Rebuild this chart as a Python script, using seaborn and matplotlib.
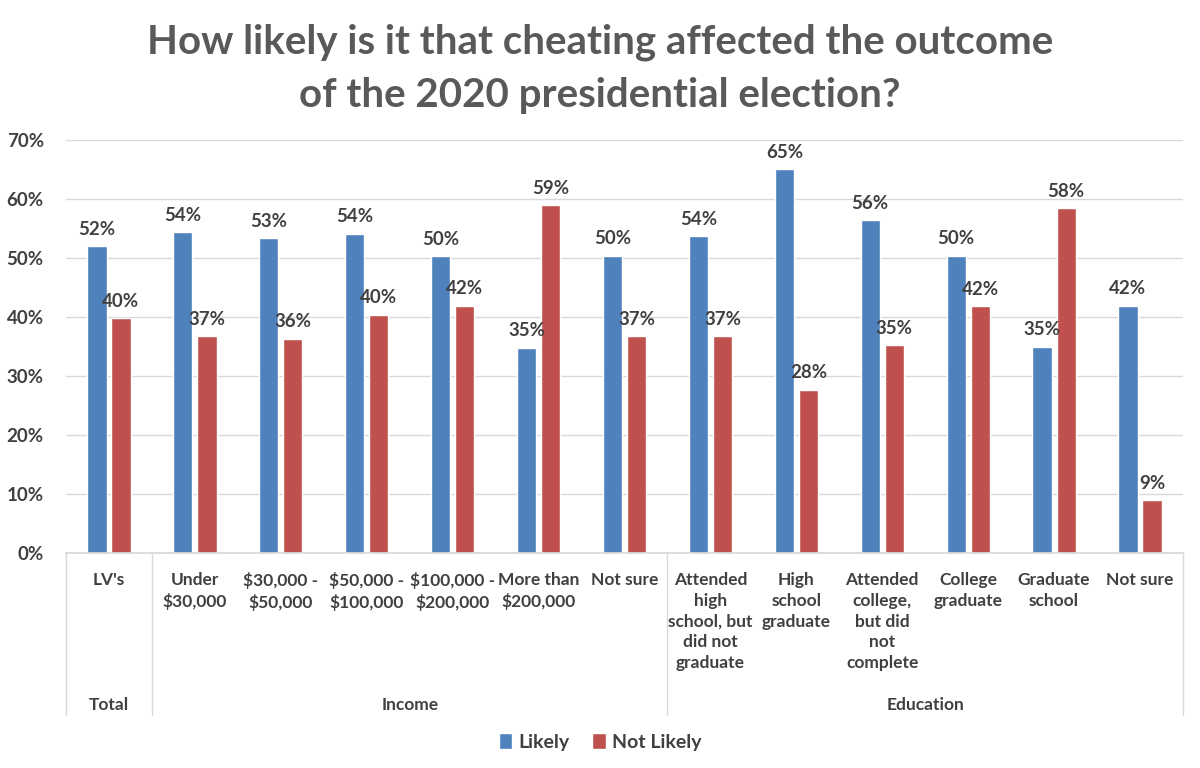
import matplotlib
matplotlib.use("Agg")
import matplotlib.pyplot as plt
import matplotlib.transforms as mtransforms
import pandas as pd
import seaborn as sns

categories = ["LV's", "Under\n$30,000", "$30,000 -\n$50,000", "$50,000 -\n$100,000",
              "$100,000 -\n$200,000", "More than\n$200,000", "Not sure",
              "Attended\nhigh\nschool, but\ndid not\ngraduate", "High\nschool\ngraduate",
              "Attended\ncollege,\nbut did\nnot\ncomplete", "College\ngraduate",
              "Graduate\nschool", "Not sure"]
groups = ["Total"] + ["Income"] * 6 + ["Education"] * 6
likely = [52.0, 54.4, 53.4, 54.1, 50.3, 34.8, 50.4, 53.7, 65.1, 56.4, 50.4, 35.0, 41.9]
not_likely = [39.8, 36.8, 36.3, 40.4, 41.9, 59.0, 36.7, 36.7, 27.7, 35.2, 41.8, 58.4, 8.9]
series = ["Likely", "Not Likely"]
colors = ["#4F81BD", "#C0504D"]

TEXT = "#404040"
GRID = "#D9D9D9"

sns.set_theme(style="white")
plt.rcParams['font.family'] = ['Lato', 'DejaVu Sans']

keys = [f"{g}|{i}" for i, g in enumerate(groups)]
df = pd.DataFrame({
    "key": keys * 2,
    "series": [series[0]] * len(keys) + [series[1]] * len(keys),
    "value": likely + not_likely,
})

fig = plt.figure(figsize=(12, 7.68), dpi=100)
ax = fig.add_axes([66 / 1200, 1 - 553 / 768, (1183 - 66) / 1200, 413 / 768])

sns.barplot(data=df, x="key", y="value", hue="series", order=keys,
            hue_order=series, palette=colors, width=0.56, gap=0.2,
            saturation=1, ax=ax)

for cont in ax.containers:
    ax.bar_label(cont, labels=[f"{round(b.get_height()):.0f}%" for b in cont],
                 padding=6, fontsize=13.5, fontweight="bold", color=TEXT)

ax.set_xlim(-0.5, len(keys) - 0.5)
ax.set_ylim(0, 70)
ax.set_yticks(range(0, 71, 10))
ax.set_yticklabels([f"{v}%" for v in range(0, 71, 10)], fontsize=13.5,
                   fontweight="bold", color=TEXT)
ax.set_xticks(range(len(keys)))
ax.set_xticklabels(categories, fontsize=12.5, fontweight="bold", color=TEXT,
                   linespacing=1.35, va="top")
ax.tick_params(axis="x", length=0, pad=14)
ax.tick_params(axis="y", length=0, pad=16)
ax.set_xlabel("")
ax.set_ylabel("")
ax.yaxis.grid(True, color=GRID, linewidth=1)
ax.set_axisbelow(True)
for s in ["left", "right", "top"]:
    ax.spines[s].set_visible(False)
ax.spines["bottom"].set_color(GRID)

# group separators and group labels below the category labels
trans = mtransforms.blended_transform_factory(ax.transData, ax.transAxes)
bounds = [-0.5, 0.5, 6.5, len(keys) - 0.5]
for b in bounds:
    ax.plot([b, b], [0, -0.392], color=GRID, linewidth=1, transform=trans, clip_on=False)
for name, lo, hi in zip(["Total", "Income", "Education"], bounds[:-1], bounds[1:]):
    ax.text((lo + hi) / 2, -0.368, name, transform=trans, ha="center", va="center",
            fontsize=12.5, fontweight="bold", color=TEXT)

handles, labels = ax.get_legend_handles_labels()
ax.get_legend().remove()
fig.legend(handles, labels, loc="center", bbox_to_anchor=(0.5, 1 - 742 / 768), ncol=2,
           frameon=False, handlelength=0.7, handleheight=0.9, handletextpad=0.3,
           columnspacing=1.2, prop={"size": 14, "weight": "bold"}, labelcolor=TEXT)

fig.text(0.5, 1 - 69 / 768,
         "How likely is it that cheating affected the outcome\nof the 2020 presidential election?",
         ha="center", va="center", fontsize=29, fontweight="bold", color="#595959",
         linespacing=1.55)

fig.savefig("out.png", dpi=100)
